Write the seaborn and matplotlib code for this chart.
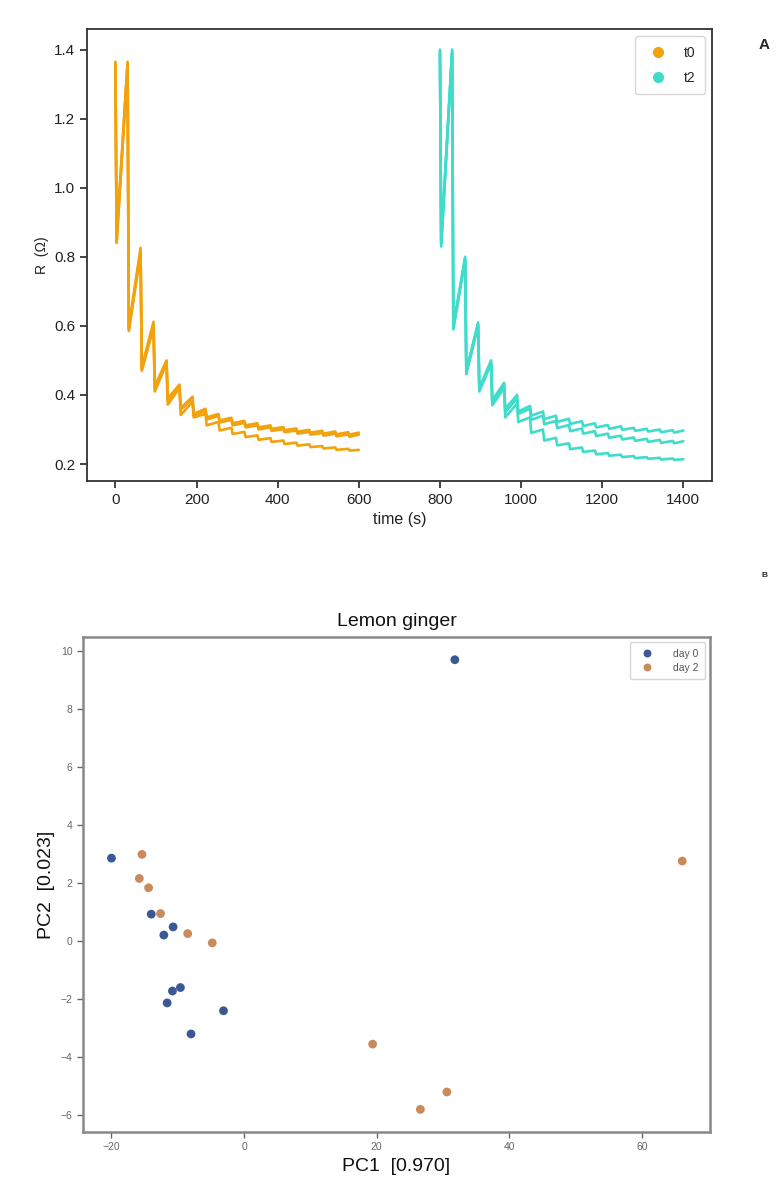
import numpy as np
import pandas as pd
import seaborn as sns
import matplotlib.pyplot as plt
from matplotlib.lines import Line2D

sns.set_theme(style="ticks")
plt.rcParams['font.family'] = ['Liberation Sans', 'DejaVu Sans']

# ---------------- Panel A data (sawtooth resistance curves) ----------------
cycle_start = [0, 30, 62, 94, 126, 158, 190, 222, 254, 286, 318, 350, 382,
               414, 446, 478, 510, 542, 574]
run_end = 600
t2_offset = 800
drop_dur = 3

t0_a_peak = [1.365, 1.365, 0.826, 0.612, 0.50, 0.43, 0.395, 0.36, 0.345, 0.334,
             0.325, 0.318, 0.312, 0.307, 0.303, 0.299, 0.296, 0.294, 0.292]
t0_a_trough = [0.855, 0.597, 0.481, 0.425, 0.39, 0.362, 0.345, 0.335, 0.326, 0.318,
               0.312, 0.306, 0.302, 0.298, 0.294, 0.291, 0.288, 0.286, 0.285]
t0_a_end = 0.291
t0_b_peak = [1.36, 1.36, 0.815, 0.60, 0.495, 0.425, 0.39, 0.354, 0.339, 0.328,
             0.319, 0.312, 0.306, 0.301, 0.297, 0.293, 0.290, 0.288, 0.286]
t0_b_trough = [0.845, 0.59, 0.475, 0.42, 0.385, 0.357, 0.34, 0.329, 0.32, 0.312,
               0.306, 0.300, 0.296, 0.292, 0.288, 0.285, 0.282, 0.280, 0.279]
t0_b_end = 0.285
t0_c_peak = [1.355, 1.355, 0.81, 0.595, 0.49, 0.42, 0.38, 0.345, 0.322, 0.305,
             0.293, 0.283, 0.275, 0.268, 0.262, 0.257, 0.252, 0.248, 0.244]
t0_c_trough = [0.84, 0.585, 0.47, 0.41, 0.372, 0.342, 0.335, 0.312, 0.297, 0.287,
               0.278, 0.270, 0.264, 0.258, 0.253, 0.249, 0.245, 0.241, 0.239]
t0_c_end = 0.241

t2_a_peak = [1.40, 1.40, 0.80, 0.61, 0.50, 0.435, 0.40, 0.368, 0.352, 0.340,
             0.331, 0.324, 0.318, 0.313, 0.309, 0.305, 0.302, 0.300, 0.298]
t2_a_trough = [0.84, 0.60, 0.47, 0.42, 0.385, 0.36, 0.352, 0.340, 0.330, 0.322,
               0.316, 0.310, 0.306, 0.302, 0.299, 0.296, 0.294, 0.292, 0.291]
t2_a_end = 0.297
t2_b_peak = [1.395, 1.395, 0.795, 0.605, 0.495, 0.43, 0.39, 0.36, 0.340, 0.325,
             0.313, 0.303, 0.295, 0.288, 0.282, 0.277, 0.273, 0.270, 0.267]
t2_b_trough = [0.835, 0.595, 0.465, 0.415, 0.378, 0.35, 0.345, 0.328, 0.315, 0.304,
               0.295, 0.288, 0.281, 0.276, 0.271, 0.267, 0.264, 0.261, 0.260]
t2_b_end = 0.266
t2_c_peak = [1.39, 1.39, 0.79, 0.60, 0.49, 0.42, 0.375, 0.335, 0.300, 0.276,
             0.260, 0.248, 0.239, 0.232, 0.227, 0.223, 0.220, 0.218, 0.216]
t2_c_trough = [0.83, 0.59, 0.46, 0.41, 0.37, 0.335, 0.322, 0.29, 0.268, 0.254,
               0.243, 0.235, 0.228, 0.224, 0.220, 0.217, 0.215, 0.213, 0.212]
t2_c_end = 0.214

series_names = ['t0', 't2']
series_colors = ['#F2A20C', '#40DCCB']

# ---------------- Panel B data (PCA scores) ----------------
day0_pc1 = [-20.0, -14.0, -10.7, -12.1, -9.6, -10.8, -11.6, -3.1, -8.0, 31.8]
day0_pc2 = [2.86, 0.93, 0.49, 0.21, -1.60, -1.72, -2.13, -2.40, -3.20, 9.70]
day2_pc1 = [-15.4, -15.8, -14.4, -12.6, -8.5, -4.8, 66.1, 19.4, 30.6, 26.6]
day2_pc2 = [2.99, 2.16, 1.84, 0.95, 0.26, -0.06, 2.76, -3.55, -5.20, -5.80]
day_names = ['day 0', 'day 2']
day_colors = ['#3A5893', '#C98A5C']


def build_line(peaks, troughs, end_val, offset):
    ts, vs = [], []
    for st, p, q in zip(cycle_start, peaks, troughs):
        ts += [st + offset, st + drop_dur + offset]
        vs += [p, q]
    ts.append(run_end + offset)
    vs.append(end_val)
    return ts, vs


rows = []
lines = [
    ('t0', 'l1', t0_a_peak, t0_a_trough, t0_a_end, 0),
    ('t0', 'l2', t0_b_peak, t0_b_trough, t0_b_end, 0),
    ('t0', 'l3', t0_c_peak, t0_c_trough, t0_c_end, 0),
    ('t2', 'l4', t2_a_peak, t2_a_trough, t2_a_end, t2_offset),
    ('t2', 'l5', t2_b_peak, t2_b_trough, t2_b_end, t2_offset),
    ('t2', 'l6', t2_c_peak, t2_c_trough, t2_c_end, t2_offset),
]
for ser, uid, pk, tr, ev, off in lines:
    ts, vs = build_line(pk, tr, ev, off)
    for t, v in zip(ts, vs):
        rows.append({'series': ser, 'unit': uid, 'time': t, 'R': v})
df_a = pd.DataFrame(rows)

df_b = pd.DataFrame({
    'PC1': day0_pc1 + day2_pc1,
    'PC2': day0_pc2 + day2_pc2,
    'day': [day_names[0]] * len(day0_pc1) + [day_names[1]] * len(day2_pc1),
})

fig = plt.figure(figsize=(7.79, 11.84), dpi=100)

# ---------------- Panel A ----------------
ax1 = fig.add_axes([0.1117, 0.5938, 0.802, 0.3818])
sns.lineplot(data=df_a, x='time', y='R', hue='series', units='unit',
             estimator=None, sort=False, palette=dict(zip(series_names, series_colors)),
             linewidth=1.9, legend=False, ax=ax1)
ax1.set_xlim(-70, 1470)
ax1.set_ylim(0.151, 1.46)
ax1.set_xticks([0, 200, 400, 600, 800, 1000, 1200, 1400])
ax1.set_yticks([0.2, 0.4, 0.6, 0.8, 1.0, 1.2, 1.4])
ax1.tick_params(labelsize=11, colors='#222222', length=5, width=1.2)
for s in ax1.spines.values():
    s.set_color('#333333')
    s.set_linewidth(1.3)
ax1.set_xlabel('time (s)', fontsize=11.5, color='#222222')
ax1.set_ylabel('R  (Ω)', fontsize=10, color='#222222')
handles = [Line2D([], [], marker='o', ls='', color=c, markersize=7) for c in series_colors]
ax1.legend(handles, series_names, loc='upper right', fontsize=10, frameon=True,
           handletextpad=0.8, borderpad=0.7, labelspacing=0.8)

# ---------------- Panel B ----------------
ax2 = fig.add_axes([0.1065, 0.0439, 0.805, 0.418])
sns.scatterplot(data=df_b, x='PC1', y='PC2', hue='day',
                palette=dict(zip(day_names, day_colors)), s=40, linewidth=0, ax=ax2)
ax2.set_xlim(-24.3, 70.3)
ax2.set_ylim(-6.58, 10.48)
ax2.set_xticks([-20, 0, 20, 40, 60])
ax2.set_yticks([-6, -4, -2, 0, 2, 4, 6, 8, 10])
ax2.tick_params(labelsize=7.5, colors='#666666', length=4, width=1.0)
for s in ax2.spines.values():
    s.set_color('#888888')
    s.set_linewidth(1.8)
ax2.set_xlabel('PC1  [0.970]', fontsize=14, color='#111111')
ax2.set_ylabel('PC2  [0.023]', fontsize=14, color='#111111')
ax2.set_title('Lemon ginger', fontsize=14, color='#111111', pad=8)
leg = ax2.legend(loc='upper right', fontsize=7.5, frameon=True, title=None,
                 markerscale=0.9, handletextpad=1.5, borderpad=0.6, labelspacing=0.4)
for t in leg.get_texts():
    t.set_color('#555555')

fig.text(0.988, 0.962, 'A', fontsize=11, fontweight='bold', ha='right', va='center')
fig.text(0.985, 0.514, 'B', fontsize=6, fontweight='bold', ha='right', va='center')

fig.savefig('out.png', dpi=100)
